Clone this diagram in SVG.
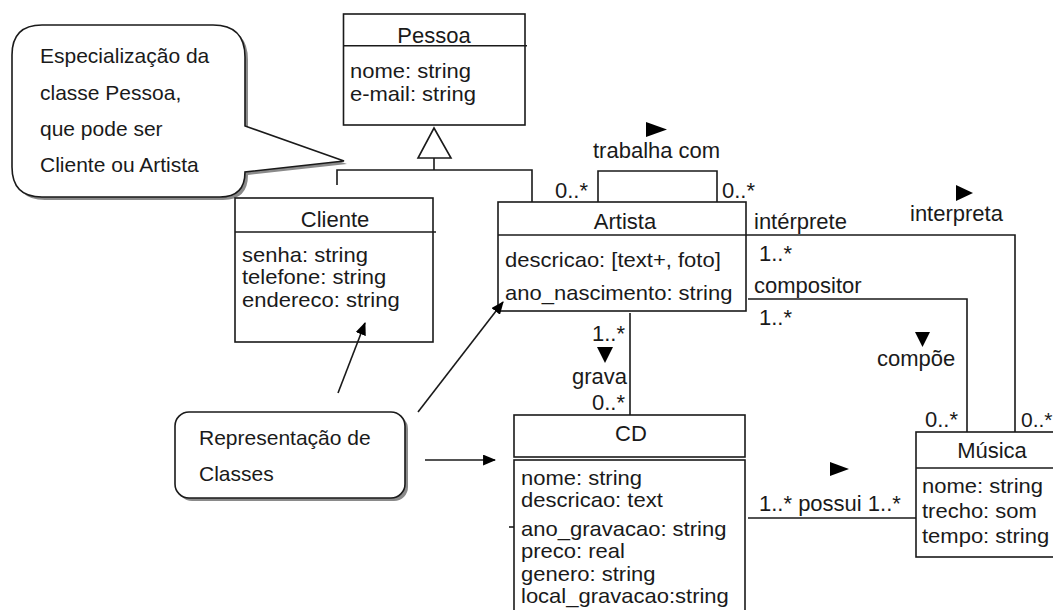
<svg xmlns="http://www.w3.org/2000/svg" width="1053" height="610" viewBox="0 0 1053 610">
<defs>
<style>
text{font-family:"Liberation Sans",Arial,sans-serif;fill:#1a1a1a;}
.t{font-size:22px;}
.a{font-size:20px;}
.c{font-size:21px;}
.mid{text-anchor:middle;}
.end{text-anchor:end;}
.box{fill:#fff;stroke:#1a1a1a;stroke-width:1.6;}
.ln{fill:none;stroke:#1a1a1a;stroke-width:1.6;}
.tri{fill:#000;stroke:none;}
.shadow{fill:#8a8a8a;stroke:none;}
</style>
<marker id="ah" viewBox="0 0 12 10" refX="11" refY="5" markerWidth="13" markerHeight="11" markerUnits="userSpaceOnUse" orient="auto">
<path d="M0,0 L12,5 L0,10 Z" fill="#000"/>
</marker>
</defs>
<rect width="1053" height="610" fill="#fff"/>

<g id="callout">
<path class="shadow" transform="translate(3,3)" d="M42,25 H213 Q245,25 245,57 V126 L344,161 L245,172 Q245,197 220,197 H42 Q12,197 12,167 V55 Q12,25 42,25 Z"/>
<path class="box" d="M42,25 H213 Q245,25 245,57 V126 L344,161 L245,172 Q245,197 220,197 H42 Q12,197 12,167 V55 Q12,25 42,25 Z"/>
<text class="c" x="40" y="63">Especialização da</text>
<text class="c" x="40" y="99.5">classe Pessoa,</text>
<text class="c" x="40" y="136">que pode ser</text>
<text class="c" x="40" y="172">Cliente ou Artista</text>
</g>

<g id="nota-classes">
<rect class="shadow" x="178" y="415" width="230" height="86" rx="14"/>
<rect class="box" x="175" y="412" width="230" height="86" rx="14"/>
<text class="c" x="199" y="445">Representação de</text>
<text class="c" x="199" y="481">Classes</text>
</g>

<g id="pessoa">
<rect class="box" x="343.5" y="14" width="181.5" height="111"/>
<path class="ln" d="M343.5,45.7 H527"/>
<text class="t mid" x="434" y="43">Pessoa</text>
<g transform="translate(350,0) scale(1.1,1)">
<text class="a" x="0" y="78">nome: string</text>
<text class="a" x="0" y="101">e-mail: string</text>
</g>
</g>

<g id="cliente">
<rect class="box" x="235" y="198" width="198" height="144"/>
<path class="ln" d="M235,232 H436"/>
<text class="t mid" x="335" y="227">Cliente</text>
<g transform="translate(242,0) scale(1.1,1)">
<text class="a" x="0" y="262">senha: string</text>
<text class="a" x="0" y="284.5">telefone: string</text>
<text class="a" x="0" y="307">endereco: string</text>
</g>
</g>

<g id="artista">
<rect class="box" x="498" y="202" width="248" height="109"/>
<path class="ln" d="M498,235 H746"/>
<text class="t mid" x="625" y="229">Artista</text>
<g transform="translate(505,0) scale(1.1,1)">
<text class="a" x="0" y="267">descricao: [text+, foto]</text>
<text class="a" x="0" y="300">ano_nascimento: string</text>
</g>
</g>

<g id="cd">
<rect class="box" x="514" y="415" width="231" height="42"/>
<text class="t mid" x="631" y="441">CD</text>
<rect class="box" x="514" y="460" width="231" height="170"/>
<g transform="translate(521,0) scale(1.1,1)">
<text class="a" x="0" y="485">nome: string</text>
<text class="a" x="0" y="507.5">descricao: text</text>
<text class="a" x="0" y="536">ano_gravacao: string</text>
<text class="a" x="0" y="558.5">preco: real</text>
<text class="a" x="0" y="581">genero: string</text>
<text class="a" x="0" y="603.5">local_gravacao:string</text>
</g>
</g>

<g id="musica">
<rect class="box" x="916" y="432" width="150" height="125"/>
<path class="ln" d="M916,468 H1066" stroke-width="2.4"/>
<text class="t mid" x="992" y="458">Música</text>
<g transform="translate(922,0) scale(1.1,1)">
<text class="a" x="0" y="493">nome: string</text>
<text class="a" x="0" y="518">trecho: som</text>
<text class="a" x="0" y="543">tempo: string</text>
</g>
</g>

<g id="connectors">
<path class="ln" d="M434,128 L451,158 L418,158 Z"/>
<path class="ln" d="M434,158 V170 M337,185 V170 H532 V202"/>
<path class="ln" d="M598,202 V171 H717 V202"/>
<path class="ln" d="M746,235 H1015 V432"/>
<path class="ln" d="M748,299 H967 V432"/>
<path class="ln" d="M630,313 V415"/>
<path class="ln" d="M748,518 H916"/>
<path class="ln" d="M509,527 H514"/>
<path class="ln" marker-end="url(#ah)" d="M338,393 L365,323"/>
<path class="ln" marker-end="url(#ah)" d="M418,412 L503,302"/>
<path class="ln" marker-end="url(#ah)" d="M425,460 L495,460"/>
<path class="tri" d="M646,122 L667,129.5 L646,137 Z"/>
<path class="tri" d="M956,185 L973,193 L956,201 Z"/>
<path class="tri" d="M915,332 L930,332 L922.5,347 Z"/>
<path class="tri" d="M597,347 L613,347 L605,363 Z"/>
<path class="tri" d="M830,462 L849,469 L830,476 Z"/>
<text class="t" x="593" y="158">trabalha com</text>
<text class="t end" x="588" y="198">0..*</text>
<text class="t" x="722" y="198">0..*</text>
<text class="t" x="754" y="229">intérprete</text>
<text class="t" x="759" y="261">1..*</text>
<text class="t" x="910" y="221">interpreta</text>
<text class="t" x="754" y="293">compositor</text>
<text class="t" x="759" y="325">1..*</text>
<text class="t" x="877" y="366">compõe</text>
<text class="t end" x="958" y="427">0..*</text>
<text class="c" x="1021" y="427">0..*</text>
<text class="t end" x="625" y="341">1..*</text>
<text class="t end" x="627" y="384">grava</text>
<text class="t end" x="625" y="410">0..*</text>
<text class="t" x="759" y="511">1..* possui 1..*</text>
</g>
</svg>
